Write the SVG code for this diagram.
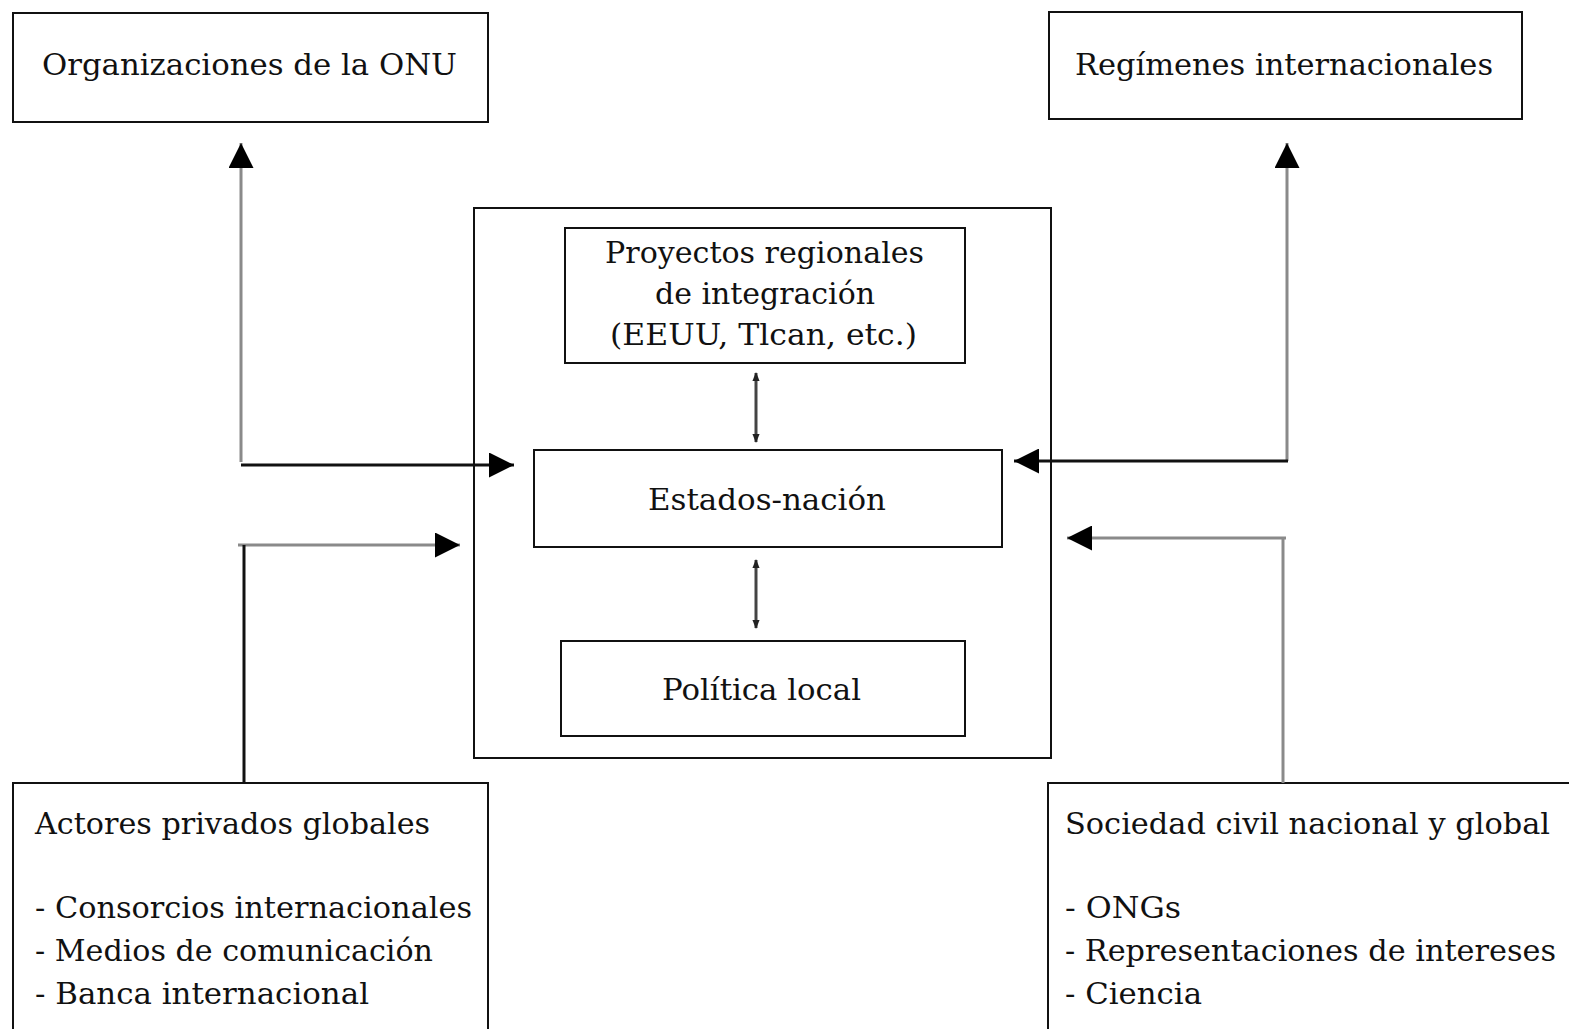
<svg xmlns="http://www.w3.org/2000/svg" width="1569" height="1029" viewBox="0 0 1569 1029">
<style>
.box{fill:#fff;stroke:#111;stroke-width:2}
.t{font-family:"DejaVu Serif","Liberation Serif",serif;font-size:30px;fill:#111}
.blk{stroke:#111;stroke-width:3;fill:none}
.gry{stroke:#8a8a8a;stroke-width:3;fill:none}
.dbl{stroke:#444;stroke-width:3;fill:none}
</style>
<defs>
<marker id="ah" viewBox="0 0 10 10" refX="10" refY="5" markerWidth="25" markerHeight="25" markerUnits="userSpaceOnUse" orient="auto">
<path d="M0,0 L10,5 L0,10 Z" fill="#000"/>
</marker>
<marker id="sm" viewBox="0 0 10 10" refX="9" refY="5" markerWidth="9" markerHeight="9" markerUnits="userSpaceOnUse" orient="auto-start-reverse">
<path d="M0,1 L10,5 L0,9 Z" fill="#222"/>
</marker>
</defs>
<rect width="1569" height="1029" fill="#fff"/>
<g id="onu">
<rect class="box" x="13" y="13" width="475" height="109"/>
<text class="t" x="42" y="75" textLength="415" lengthAdjust="spacingAndGlyphs">Organizaciones de la ONU</text>
</g>
<g id="regimenes">
<rect class="box" x="1049" y="12" width="473" height="107"/>
<text class="t" x="1075" y="75" textLength="418" lengthAdjust="spacingAndGlyphs">Regímenes internacionales</text>
</g>
<g id="central">
<rect class="box" x="474" y="208" width="577" height="550"/>
</g>
<g id="proyectos">
<rect class="box" x="565" y="228" width="400" height="135"/>
<text class="t" x="605" y="263" textLength="319" lengthAdjust="spacingAndGlyphs">Proyectos regionales</text>
<text class="t" x="655" y="304" textLength="220" lengthAdjust="spacingAndGlyphs">de integración</text>
<text class="t" x="610" y="345" textLength="307" lengthAdjust="spacingAndGlyphs">(EEUU, Tlcan, etc.)</text>
</g>
<g id="estados">
<rect class="box" x="534" y="450" width="468" height="97"/>
<text class="t" x="648" y="510" textLength="238" lengthAdjust="spacingAndGlyphs">Estados-nación</text>
</g>
<g id="politica">
<rect class="box" x="561" y="641" width="404" height="95"/>
<text class="t" x="662" y="700" textLength="199" lengthAdjust="spacingAndGlyphs">Política local</text>
</g>
<g id="actores">
<rect class="box" x="13" y="783" width="475" height="260"/>
<text class="t" x="35" y="834" textLength="395" lengthAdjust="spacingAndGlyphs">Actores privados globales</text>
<text class="t" x="35" y="918" textLength="437" lengthAdjust="spacingAndGlyphs">- Consorcios internacionales</text>
<text class="t" x="35" y="961" textLength="398" lengthAdjust="spacingAndGlyphs">- Medios de comunicación</text>
<text class="t" x="35" y="1004" textLength="334" lengthAdjust="spacingAndGlyphs">- Banca internacional</text>
</g>
<g id="sociedad">
<rect class="box" x="1048" y="783" width="540" height="260"/>
<text class="t" x="1065" y="834" textLength="485" lengthAdjust="spacingAndGlyphs">Sociedad civil nacional y global</text>
<text class="t" x="1065" y="918" textLength="116" lengthAdjust="spacingAndGlyphs">- ONGs</text>
<text class="t" x="1065" y="961" textLength="491" lengthAdjust="spacingAndGlyphs">- Representaciones de intereses</text>
<text class="t" x="1065" y="1004" textLength="137" lengthAdjust="spacingAndGlyphs">- Ciencia</text>
</g>
<g id="connectors">
<line class="gry" x1="241" y1="462" x2="241" y2="143" marker-end="url(#ah)"/>
<line class="blk" x1="241" y1="465" x2="514" y2="465" marker-end="url(#ah)"/>
<line class="gry" x1="238" y1="545" x2="460" y2="545" marker-end="url(#ah)"/>
<line class="blk" x1="244" y1="545" x2="244" y2="783"/>
<line class="gry" x1="1287" y1="461" x2="1287" y2="143" marker-end="url(#ah)"/>
<line class="blk" x1="1288" y1="461" x2="1014" y2="461" marker-end="url(#ah)"/>
<line class="gry" x1="1286" y1="538" x2="1067" y2="538" marker-end="url(#ah)"/>
<line class="gry" x1="1283" y1="538" x2="1283" y2="783"/>
<line class="dbl" x1="756" y1="373" x2="756" y2="442" marker-start="url(#sm)" marker-end="url(#sm)"/>
<line class="dbl" x1="756" y1="560" x2="756" y2="628" marker-start="url(#sm)" marker-end="url(#sm)"/>
</g>
</svg>
